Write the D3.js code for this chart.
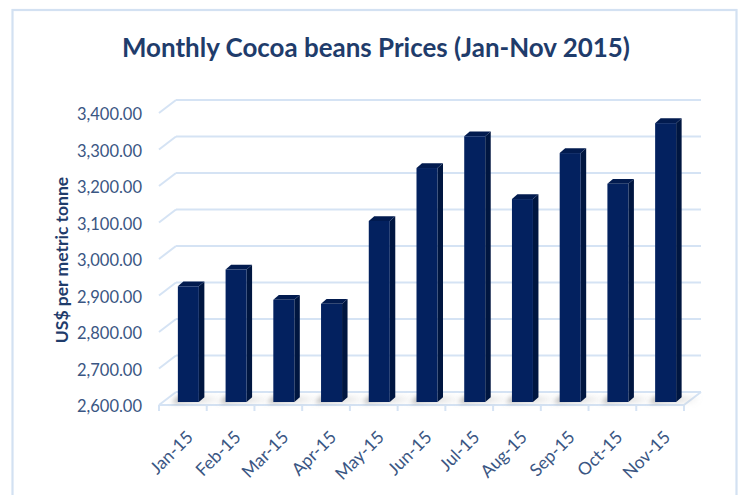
<!DOCTYPE html>
<html>
<head>
<meta charset="utf-8">
<script src="https://cdn.jsdelivr.net/npm/d3@7"></script>
<style>
  html, body { margin: 0; padding: 0; background: #ffffff; }
  svg { display: block; }
</style>
</head>
<body>
<svg id="chart" width="739" height="495"></svg>
<script>
// Monthly average cocoa bean prices, US$ per metric tonne
const months = ["Jan-15", "Feb-15", "Mar-15", "Apr-15", "May-15", "Jun-15",
                "Jul-15", "Aug-15", "Sep-15", "Oct-15", "Nov-15"];
const prices = [2917, 2963, 2880, 2869, 3096, 3241, 3328, 3156, 3282, 3198, 3364];
const yTicks = [2600, 2700, 2800, 2900, 3000, 3100, 3200, 3300, 3400];
const titleText = "Monthly Cocoa beans Prices (Jan-Nov 2015)";
const yTitle = "US$ per metric tonne";

const svg = d3.select("#chart");

// plot front plane and depth offset of the 3D box
const plot = { left: 159, right: 684, top: 113, bottom: 405 };
const depth = { dx: 17, dy: -13 };

const gridColor = "#d5e3f4";
const labelColor = "#3a5683";
const titleColor = "#1f3c6b";

const x = d3.scaleBand()
  .domain(months)
  .range([plot.left, plot.right])
  .paddingInner(0.56)
  .paddingOuter(0.28);

const y = d3.scaleLinear()
  .domain([yTicks[0], yTicks[yTicks.length - 1]])
  .range([plot.bottom, plot.top]);

const tickX = d3.scaleLinear().domain([0, months.length]).range([plot.left, plot.right]);

const defs = svg.append("defs");
defs.append("filter").attr("id", "soft").attr("x", "-50%").attr("y", "-200%")
  .attr("width", "200%").attr("height", "500%")
  .append("feGaussianBlur").attr("stdDeviation", 2.4);
const shadeGrad = defs.append("linearGradient").attr("id", "shade")
  .attr("x1", "0").attr("x2", "1").attr("y1", "0").attr("y2", "0");
shadeGrad.append("stop").attr("offset", "0").attr("stop-color", "#8c8c8c").attr("stop-opacity", 0.75);
shadeGrad.append("stop").attr("offset", "1").attr("stop-color", "#bdbdbd").attr("stop-opacity", 0);

// chart area border
svg.append("rect")
  .attr("x", 12.5).attr("y", 10).attr("width", 724).attr("height", 500)
  .attr("fill", "#ffffff").attr("stroke", "#d3e1f2").attr("stroke-width", 2.2);

// title
svg.append("text")
  .attr("x", 376).attr("y", 57)
  .attr("text-anchor", "middle")
  .attr("font-family", "Lato, 'Open Sans', sans-serif")
  .attr("font-weight", "bold")
  .attr("font-size", 27)
  .attr("fill", titleColor)
  .attr("textLength", 508)
  .attr("lengthAdjust", "spacingAndGlyphs")
  .text(titleText);

// back wall gridlines and side wall diagonals
const grid = svg.append("g").attr("stroke", gridColor).attr("stroke-width", 2).attr("fill", "none");
yTicks.forEach(v => {
  const yy = y(v);
  grid.append("line")
    .attr("x1", plot.left + depth.dx).attr("x2", plot.right + depth.dx)
    .attr("y1", yy + depth.dy).attr("y2", yy + depth.dy);
  grid.append("line")
    .attr("x1", plot.left).attr("y1", yy)
    .attr("x2", plot.left + depth.dx).attr("y2", yy + depth.dy);
});

// floor front edge, right edge and category tick marks
grid.append("line")
  .attr("x1", plot.left).attr("x2", plot.right)
  .attr("y1", plot.bottom).attr("y2", plot.bottom);
grid.append("line")
  .attr("x1", plot.right).attr("y1", plot.bottom)
  .attr("x2", plot.right + depth.dx).attr("y2", plot.bottom + depth.dy);
d3.range(months.length + 1).forEach(i => {
  grid.append("line")
    .attr("x1", tickX(i)).attr("x2", tickX(i))
    .attr("y1", plot.bottom).attr("y2", plot.bottom + 6);
});

// bar geometry: front face sits a little behind the front plane
const face = { dx: 5.5, dy: -3 };
const barDepth = { dx: 5.5, dy: -4.8 };
const bw = x.bandwidth();
const base = y(yTicks[0]) + face.dy;

// soft floor shadows cast to the right of each bar
svg.append("g").selectAll("polygon")
  .data(prices)
  .join("polygon")
  .attr("points", (d, i) => {
    const x0 = x(months[i]) + face.dx - 6;
    const x1 = x(months[i]) + face.dx + bw + barDepth.dx + 20;
    return [[x0, base + 1], [x0 + 6, base - 6], [x1, base - 6], [x1 - 6, base + 1]].join(" ");
  })
  .attr("fill", "url(#shade)")
  .attr("filter", "url(#soft)");

const bars = svg.append("g").selectAll("g")
  .data(prices)
  .join("g");

bars.each(function (d, i) {
  const g = d3.select(this);
  const x0 = x(months[i]) + face.dx;
  const x1 = x0 + bw;
  const yt = y(d) + face.dy;
  const yb = base;
  // side face
  g.append("polygon")
    .attr("points", [[x1, yt], [x1 + barDepth.dx, yt + barDepth.dy],
                     [x1 + barDepth.dx, yb + barDepth.dy], [x1, yb]].join(" "))
    .attr("fill", "#001640");
  // top face
  g.append("polygon")
    .attr("points", [[x0, yt], [x0 + barDepth.dx, yt + barDepth.dy],
                     [x1 + barDepth.dx, yt + barDepth.dy], [x1, yt]].join(" "))
    .attr("fill", "#021b4f");
  // front face
  g.append("rect")
    .attr("x", x0).attr("y", yt)
    .attr("width", bw).attr("height", yb - yt)
    .attr("fill", "#03215f");
});

// value axis labels
const fmt = d3.format(",.2f");
svg.append("g").selectAll("text")
  .data(yTicks)
  .join("text")
  .attr("x", 142)
  .attr("y", d => y(d) + 1.5)
  .attr("dy", "0.35em")
  .attr("text-anchor", "end")
  .attr("font-family", "Lato, 'Open Sans', sans-serif")
  .attr("font-size", 16.5)
  .attr("fill", labelColor)
  .text(d => fmt(d));

// category labels, rotated
svg.append("g").selectAll("text")
  .data(months)
  .join("text")
  .attr("transform", d => `translate(${x(d) + bw / 2 + 7},${plot.bottom + 29}) rotate(-45)`)
  .attr("dy", "0.35em")
  .attr("text-anchor", "end")
  .attr("font-family", "Lato, 'Open Sans', sans-serif")
  .attr("font-size", 17.5)
  .attr("fill", labelColor)
  .text(d => d);

// value axis title
svg.append("text")
  .attr("transform", `translate(68,260) rotate(-90)`)
  .attr("text-anchor", "middle")
  .attr("font-family", "Lato, 'Open Sans', sans-serif")
  .attr("font-weight", "bold")
  .attr("font-size", 17.5)
  .attr("fill", titleColor)
  .text(yTitle);
</script>
</body>
</html>
